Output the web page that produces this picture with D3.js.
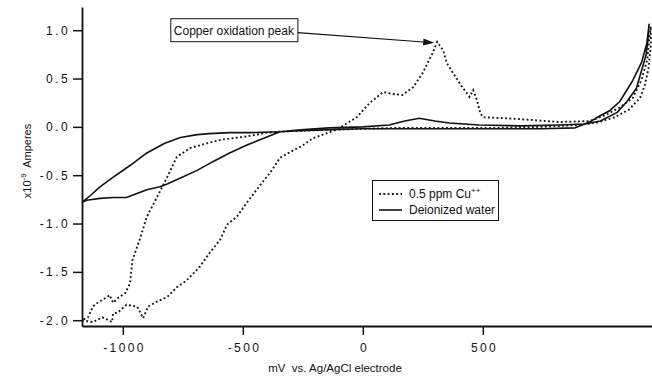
<!DOCTYPE html>
<html><head><meta charset="utf-8">
<script src="https://cdn.jsdelivr.net/npm/d3@7"></script>
<style>
body{margin:0;background:#fff}
svg{display:block}
text{font-family:"Liberation Sans",Arial,Helvetica,sans-serif;fill:#111;white-space:pre}
</style>
</head><body><svg id="chart" width="652" height="377"></svg>
<script>
// ---------- data ----------
const voltageTicks = [-1000, -500, 0, 500];
const currentTicks = [1.0, 0.5, 0.0, -0.5, -1.0, -1.5, -2.0];
const seriesNames = ["0.5 ppm Cu", "Deionized water"];

// Deionized water (solid) cyclic voltammogram, mV vs Ag/AgCl, x10^-9 A
const waterVoltage = [-1170,-1150,-1095,-1040,-985,-900,-845,-815,-760,-690,-625,-555,-485,-415,-345,-260,-140,0,110,175,235,300,360,485,655,820,925,990,1060,1100,1140,1160,1180,1188,1193,
  1183,1162,1125,1070,1030,985,945,885,740,570,360,155,0,-140,-260,-345,-470,-555,-640,-690,-760,-825,-900,-970,-1040,-1095,-1135,-1170];
const waterCurrent = [-0.78,-0.76,-0.74,-0.73,-0.73,-0.65,-0.62,-0.59,-0.53,-0.45,-0.36,-0.27,-0.19,-0.12,-0.05,-0.03,-0.01,0.00,0.02,0.06,0.09,0.06,0.04,0.02,0.01,0.02,0.03,0.06,0.15,0.26,0.40,0.57,0.74,0.90,1.06,
  0.86,0.67,0.48,0.26,0.17,0.11,0.05,-0.01,-0.02,-0.02,-0.02,-0.02,-0.02,-0.03,-0.04,-0.05,-0.06,-0.06,-0.07,-0.08,-0.11,-0.17,-0.27,-0.40,-0.52,-0.62,-0.71,-0.78];

// 0.5 ppm Cu++ (dotted) cyclic voltammogram
const cuVoltage = [-1170,-1125,-1085,-1060,-1045,-1040,-1020,-985,-940,-915,-895,-860,-815,-775,-735,-680,-640,-595,-565,-525,-485,-430,-385,-345,-295,-255,-210,-110,-25,30,85,125,165,210,250,290,310,335,350,375,415,445,460,475,490,500,585,655,820,945,1010,1070,1125,1160,1185,1195,1200,
  1200,1190,1175,1155,1110,1050,985,905,740,570,360,155,0,-140,-260,-345,-400,-485,-585,-650,-720,-775,-815,-860,-900,-930,-960,-970,-990,-1020,-1040,-1055,-1065,-1105,-1125,-1145,-1170];
const cuCurrent = [-2.00,-2.02,-1.97,-2.00,-2.02,-1.93,-1.92,-1.84,-1.86,-1.98,-1.86,-1.81,-1.76,-1.66,-1.59,-1.45,-1.31,-1.17,-1.01,-0.93,-0.79,-0.61,-0.47,-0.32,-0.25,-0.20,-0.12,-0.03,0.10,0.25,0.36,0.34,0.33,0.41,0.56,0.76,0.88,0.79,0.66,0.56,0.41,0.31,0.38,0.28,0.14,0.10,0.09,0.08,0.05,0.06,0.12,0.20,0.30,0.48,0.69,0.95,1.04,
  0.84,0.60,0.43,0.30,0.18,0.10,0.05,0.02,0.00,-0.01,-0.01,-0.01,-0.02,-0.03,-0.04,-0.05,-0.06,-0.10,-0.13,-0.17,-0.22,-0.31,-0.52,-0.74,-0.93,-1.17,-1.38,-1.62,-1.72,-1.77,-1.82,-1.74,-1.76,-1.82,-1.86,-1.97,-2.00];

const annotationText = "Copper oxidation peak";
const annotationAnchor = [-800, 1.0];   // left-middle of label box (mV, current)
const annotationTarget = [310, 0.88];   // peak

// ---------- chart ----------
const svg = d3.select("#chart");
const x = d3.scaleLinear().domain([-1170, 1205]).range([82, 652]);
const y = d3.scaleLinear().domain([-2.06, 1.24]).range([326, 7]);

const fmtY = d => (d < 0 ? "-" : "") + Math.abs(d).toFixed(1);
const fmtX = d => (d < 0 ? "-" : "") + Math.abs(d);

const gy = svg.append("g").attr("transform", `translate(${x.range()[0]},0)`)
  .call(d3.axisLeft(y).tickValues(currentTicks).tickSize(9).tickSizeOuter(0).tickPadding(3).tickFormat(fmtY));
const gx = svg.append("g").attr("transform", `translate(0,${y.range()[0]})`)
  .call(d3.axisBottom(x).tickValues(voltageTicks).tickSize(9).tickSizeOuter(0).tickPadding(8).tickFormat(fmtX));

[gx, gy].forEach(g => {
  g.select(".domain").attr("stroke", "#111").attr("stroke-width", 1.8);
  g.selectAll(".tick line").attr("stroke", "#111").attr("stroke-width", 1.5);
  g.selectAll(".tick text").attr("fill", "#111")
    .style("font-family", '"Liberation Sans",Arial,sans-serif')
    .style("font-size", "12px").style("letter-spacing", "2.4px");
});
gx.selectAll(".tick text").attr("dx", 1.2);

// axis titles
svg.append("text").attr("x", 335).attr("y", 372).attr("text-anchor", "middle")
  .style("font-size", "11.5px").text("mV  vs. Ag/AgCl electrode");

const yt = svg.append("text").attr("transform", "translate(31,161) rotate(-90)")
  .attr("text-anchor", "middle").style("font-size", "11px");
yt.append("tspan").text("x10");
yt.append("tspan").attr("dy", -5).style("font-size", "8px").text("-9");
yt.append("tspan").attr("dy", 5).text("  Amperes");

// curves
const line = d3.line().x(d => x(d[0])).y(d => y(d[1]));
const water = waterVoltage.map((v, i) => [v, waterCurrent[i]]);
const cu = cuVoltage.map((v, i) => [v, cuCurrent[i]]);

svg.append("path").datum(water).attr("d", line)
  .attr("fill", "none").attr("stroke", "#111").attr("stroke-width", 1.6).attr("stroke-linejoin", "round");
svg.append("path").datum(cu).attr("d", line)
  .attr("fill", "none").attr("stroke", "#1a1a1a").attr("stroke-width", 1.9)
  .attr("stroke-dasharray", "1.9,2.4");

// legend
const lg = svg.append("g");
lg.append("rect").attr("x", 372.5).attr("y", 180.5).attr("width", 126).attr("height", 40)
  .attr("fill", "#fff").attr("stroke", "#111").attr("stroke-width", 1);
lg.append("line").attr("x1", 379).attr("x2", 402).attr("y1", 194).attr("y2", 194)
  .attr("stroke", "#1a1a1a").attr("stroke-width", 1.9).attr("stroke-dasharray", "1.9,2.4");
lg.append("line").attr("x1", 379).attr("x2", 402).attr("y1", 210).attr("y2", 210)
  .attr("stroke", "#111").attr("stroke-width", 1.6);
const t1 = lg.append("text").attr("x", 409).attr("y", 198).style("font-size", "12px");
t1.append("tspan").text(seriesNames[0]);
t1.append("tspan").attr("dy", -5).style("font-size", "8px").text("++");
lg.append("text").attr("x", 409).attr("y", 214).style("font-size", "12px").text(seriesNames[1]);

// annotation
const ag = svg.append("g");
const ax0 = x(annotationAnchor[0]), ay0 = y(annotationAnchor[1]);
const boxRect = ag.append("rect");
const at = ag.append("text").attr("x", ax0 + 3).attr("y", ay0 + 4.5)
  .style("font-size", "12px").text(annotationText);
const tw = at.node().getComputedTextLength();
const bw = tw + 7;
boxRect.attr("x", ax0).attr("y", ay0 - 11.5).attr("width", bw).attr("height", 23)
  .attr("fill", "#fff").attr("stroke", "#111").attr("stroke-width", 1);
const sx = ax0 + bw, sy = ay0 + 2.5;
const tx = x(annotationTarget[0]) - 3, ty = y(annotationTarget[1]) + 1;
const ang = Math.atan2(ty - sy, tx - sx);
const hl = 11, hw = 3.5;
const bx = tx - hl * Math.cos(ang), by = ty - hl * Math.sin(ang);
ag.append("line").attr("x1", sx).attr("y1", sy).attr("x2", bx).attr("y2", by)
  .attr("stroke", "#111").attr("stroke-width", 1.2);
ag.append("path").attr("d", d3.line()([
  [tx, ty],
  [bx + hw * Math.sin(ang), by - hw * Math.cos(ang)],
  [bx - hw * Math.sin(ang), by + hw * Math.cos(ang)]
]) + "Z").attr("fill", "#111");
</script>
</body></html>
